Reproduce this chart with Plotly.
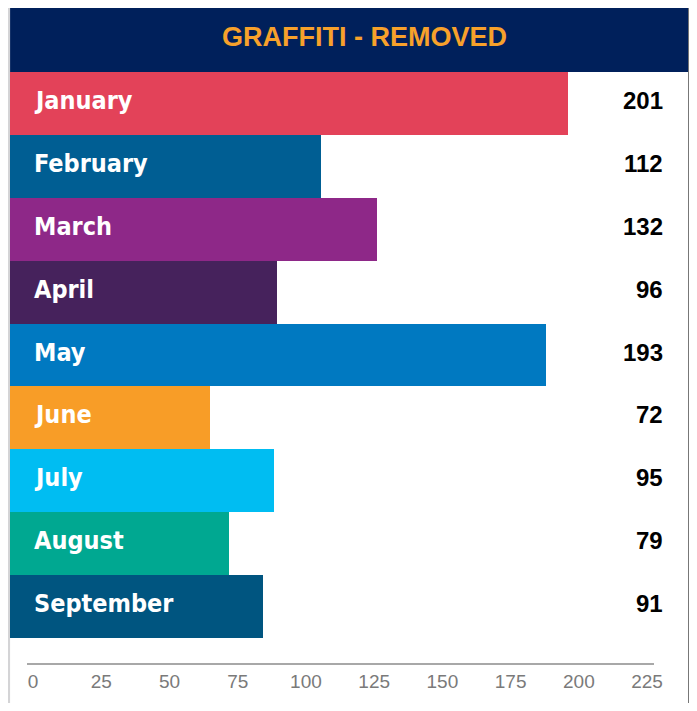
import plotly.graph_objects as go

# data
months = ["January", "February", "March", "April", "May", "June", "July", "August", "September"]
removed = [201, 112, 132, 96, 193, 72, 95, 79, 91]
bar_colors = ["#E34259", "#005E93", "#8E2888", "#46225C", "#0079C1",
              "#F89D27", "#00BDF2", "#00A891", "#005580"]
tick_vals = [0, 25, 50, 75, 100, 125, 150, 175, 200, 225]
title = "GRAFFITI - REMOVED"

# page keeps its 8px body margin; the shot comes out ~705 px wide squeezed to 697
OFF = 8
SX = 705 / 697
W, H = 697, 711 - 2 * OFF
narrow = "DejaVu Sans Condensed, Liberation Sans Narrow, sans-serif"
arial = "Liberation Sans, Arial, sans-serif"


def fx(px):
    return (px * SX - OFF) / W


def fy(px):
    return 1 - (px - OFF) / H


fig = go.Figure()
fig.add_trace(go.Bar(
    x=removed, y=months, orientation="h",
    marker=dict(color=bar_colors, line=dict(width=0)),
    hoverinfo="skip", showlegend=False,
))
# invisible helper so the tick axis gets drawn
fig.add_trace(go.Scatter(x=tick_vals, y=[0] * len(tick_vals), mode="none",
                         xaxis="x2", yaxis="y2", hoverinfo="skip", showlegend=False))

# month names inside bars, values at right
for m, v in zip(months, removed):
    fig.add_annotation(x=fx(32), xref="paper", y=m, yref="y", yshift=3, text="<b>%s</b>" % m,
                       xanchor="left", yanchor="middle", showarrow=False,
                       font=dict(family=narrow, size=25, color="white"))
    fig.add_annotation(x=fx(666), xref="paper", y=m, yref="y", yshift=3, text="<b>%d</b>" % v,
                       xanchor="right", yanchor="middle", showarrow=False,
                       font=dict(family=arial, size=24, color="black"))

fig.add_annotation(x=fx(365), xref="paper", y=fy(37), yref="paper",
                   text="<b>%s</b>" % title, showarrow=False,
                   xanchor="center", yanchor="middle",
                   font=dict(family=arial, size=27, color="#F7A12B"))

shapes = [
    dict(type="rect", xref="paper", yref="paper", x0=0, x1=fx(10), y0=0, y1=1,
         fillcolor="#D4D4D6", line_width=0, layer="below"),
    dict(type="rect", xref="paper", yref="paper", x0=fx(689), x1=1, y0=0, y1=1,
         fillcolor="#767676", line_width=0, layer="below"),
    dict(type="rect", xref="paper", yref="paper", x0=fx(10), x1=fx(689),
         y0=fy(72), y1=1, fillcolor="#00205B", line_width=0, layer="below"),
]

# bars: 0 sits at x=10px, 2.781 px per unit; tick axis: 0 at 33px, 2.733 px per unit
fig.update_layout(
    width=W, height=H,
    margin=dict(l=0, r=0, t=0, b=0),
    paper_bgcolor="white", plot_bgcolor="rgba(0,0,0,0)",
    bargap=0,
    shapes=shapes,
    xaxis=dict(domain=[0, 1], range=[(OFF / SX - 10) / 2.781, (697 - 10) / 2.781],
               visible=False, fixedrange=True),
    yaxis=dict(domain=[fy(638), fy(72)], autorange="reversed", visible=False, fixedrange=True),
    xaxis2=dict(domain=[fx(27), fx(655)], range=[-6 / 2.7333, 622 / 2.7333], anchor="y2",
                showline=True, linecolor="#A8A8A8", linewidth=2, showgrid=False, zeroline=False,
                ticks="", tickvals=tick_vals,
                tickfont=dict(family=arial, size=19, color="#7A7A7A"),
                fixedrange=True),
    yaxis2=dict(domain=[fy(663), fy(650)], visible=False, range=[-1, 1], fixedrange=True),
)

fig.write_html("out.html", config={"displayModeBar": False})
